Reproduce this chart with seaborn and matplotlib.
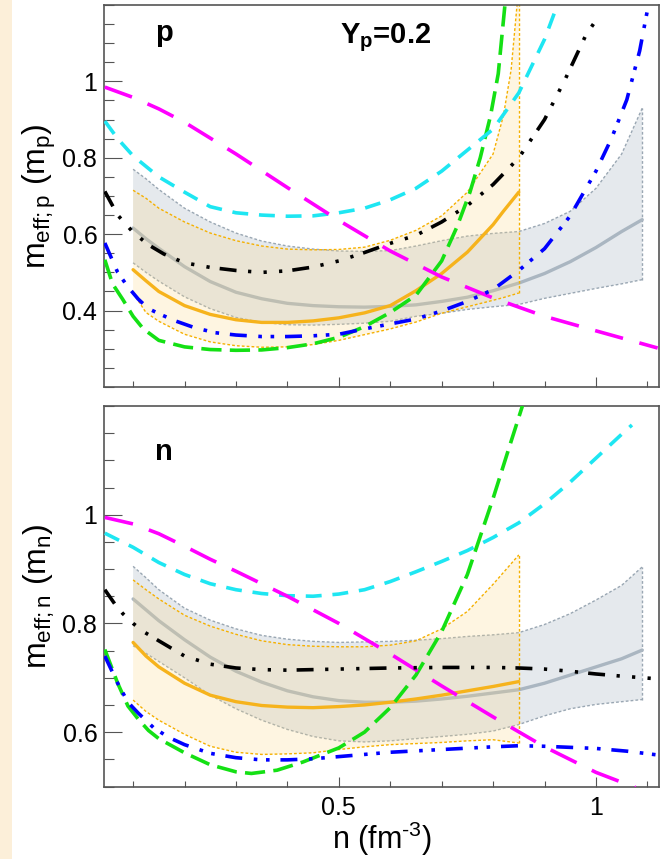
import matplotlib
matplotlib.use("Agg")
import matplotlib.pyplot as plt
from matplotlib.patches import Rectangle
from matplotlib.ticker import FixedLocator, MultipleLocator, FuncFormatter
import numpy as np
import pandas as pd
import seaborn as sns

sns.set_style("ticks")
plt.rcParams["font.family"] = ["Liberation Sans", "DejaVu Sans"]
plt.rcParams["mathtext.fontset"] = "custom"
plt.rcParams["mathtext.rm"] = "Liberation Sans"
plt.rcParams["mathtext.it"] = "Liberation Sans:italic"
plt.rcParams["mathtext.bf"] = "Liberation Sans:bold"
plt.rcParams["text.color"] = "black"
plt.rcParams["axes.labelcolor"] = "black"

# ---------------- proton panel (Y_p = 0.2) ----------------
p_magenta_n = [0.045, 0.1, 0.15, 0.2, 0.3, 0.4, 0.5, 0.6, 0.7, 0.8, 0.9, 1.0, 1.12]
p_magenta_m = [0.985, 0.958, 0.928, 0.893, 0.81, 0.722, 0.636, 0.556, 0.488, 0.433, 0.385, 0.347, 0.302]

p_cyan_n = [0.045, 0.07, 0.1, 0.15, 0.2, 0.25, 0.3, 0.35, 0.4, 0.45, 0.5, 0.55,
            0.6, 0.65, 0.7, 0.75, 0.8, 0.85, 0.9, 0.925]
p_cyan_m = [0.896, 0.85, 0.805, 0.75, 0.71, 0.672, 0.656, 0.65, 0.647, 0.648, 0.656, 0.668,
            0.69, 0.72, 0.765, 0.82, 0.875, 0.97, 1.11, 1.2]

p_green_n = [0.045, 0.06, 0.08, 0.1, 0.12, 0.15, 0.2, 0.25, 0.3, 0.35, 0.4, 0.45, 0.5,
             0.55, 0.6, 0.65, 0.7, 0.73, 0.755, 0.775, 0.795, 0.81, 0.823]
p_green_m = [0.533, 0.47, 0.429, 0.385, 0.352, 0.322, 0.305, 0.298, 0.296, 0.297, 0.303,
             0.313, 0.33, 0.358, 0.395, 0.44, 0.53, 0.62, 0.71, 0.80, 0.91, 1.02, 1.2]

p_blue_n = [0.045, 0.07, 0.09, 0.11, 0.13, 0.15, 0.18, 0.22, 0.26, 0.3, 0.35, 0.4, 0.45,
            0.5, 0.55, 0.6, 0.65, 0.7, 0.75, 0.8, 0.85, 0.9, 0.95, 1.0, 1.03, 1.06,
            1.085, 1.102]
p_blue_m = [0.577, 0.50, 0.462, 0.43, 0.405, 0.392, 0.374, 0.355, 0.342, 0.336, 0.332,
            0.332, 0.334, 0.338, 0.352, 0.365, 0.378, 0.399, 0.424, 0.455, 0.505, 0.562,
            0.648, 0.765, 0.85, 0.952, 1.08, 1.2]

p_black_n = [0.045, 0.07, 0.1, 0.13, 0.16, 0.2, 0.25, 0.3, 0.35, 0.4, 0.45, 0.5, 0.55,
             0.6, 0.65, 0.7, 0.75, 0.8, 0.85, 0.9, 0.94, 0.98, 1.005]
p_black_m = [0.712, 0.65, 0.605, 0.572, 0.548, 0.525, 0.513, 0.505, 0.50, 0.504, 0.514,
             0.53, 0.552, 0.576, 0.597, 0.632, 0.675, 0.73, 0.80, 0.90, 1.005, 1.12, 1.17]

p_orange_n = [0.1, 0.125, 0.15, 0.2, 0.25, 0.3, 0.35, 0.4, 0.45, 0.5, 0.55, 0.6, 0.65,
              0.7, 0.75, 0.8, 0.82, 0.835, 0.85]
p_orange_mid = [0.507, 0.478, 0.45, 0.413, 0.39, 0.376, 0.369, 0.369, 0.373, 0.381, 0.394,
                0.413, 0.452, 0.497, 0.553, 0.625, 0.66, 0.685, 0.710]
p_orange_hi = [0.715, 0.694, 0.668, 0.632, 0.603, 0.583, 0.569, 0.561, 0.559, 0.560, 0.566,
               0.584, 0.61, 0.648, 0.71, 0.81, 0.91, 1.03, 1.25]
p_orange_lo = [0.446, 0.395, 0.372, 0.338, 0.318, 0.308, 0.304, 0.305, 0.311, 0.322, 0.337,
               0.352, 0.37, 0.393, 0.41, 0.427, 0.434, 0.44, 0.446]

p_gray_n = [0.1, 0.125, 0.15, 0.2, 0.25, 0.3, 0.35, 0.4, 0.45, 0.5, 0.55, 0.6, 0.65, 0.7,
            0.75, 0.8, 0.85, 0.9, 0.95, 1.0, 1.05, 1.09]
p_gray_mid = [0.616, 0.588, 0.563, 0.515, 0.476, 0.448, 0.431, 0.419, 0.413, 0.410, 0.409,
              0.411, 0.415, 0.424, 0.435, 0.452, 0.472, 0.497, 0.528, 0.565, 0.607, 0.638]
p_gray_hi = [0.77, 0.745, 0.717, 0.668, 0.632, 0.603, 0.582, 0.569, 0.561, 0.556, 0.555,
             0.557, 0.569, 0.583, 0.595, 0.602, 0.607, 0.628, 0.66, 0.72, 0.81, 0.93]
p_gray_lo = [0.525, 0.50, 0.477, 0.436, 0.405, 0.382, 0.369, 0.363, 0.362, 0.364, 0.367,
             0.372, 0.385, 0.393, 0.403, 0.410, 0.416, 0.432, 0.445, 0.458, 0.470, 0.481]

# ---------------- neutron panel ----------------
n_magenta_n = [0.045, 0.1, 0.15, 0.2, 0.25, 0.3, 0.35, 0.4, 0.5, 0.6, 0.7, 0.8, 0.9, 1.0, 1.077]
n_magenta_m = [0.995, 0.983, 0.965, 0.942, 0.918, 0.896, 0.873, 0.85, 0.8, 0.744, 0.685,
               0.628, 0.573, 0.526, 0.498]

n_cyan_n = [0.045, 0.1, 0.15, 0.2, 0.25, 0.3, 0.35, 0.4, 0.45, 0.5, 0.55, 0.6, 0.65, 0.7,
            0.75, 0.8, 0.85, 0.9, 0.95, 1.0, 1.05, 1.07]
n_cyan_m = [0.966, 0.94, 0.912, 0.89, 0.873, 0.862, 0.855, 0.851, 0.85, 0.854, 0.862, 0.877,
            0.895, 0.914, 0.934, 0.958, 0.985, 1.02, 1.06, 1.104, 1.148, 1.165]

n_green_n = [0.045, 0.07, 0.09, 0.11, 0.13, 0.15, 0.2, 0.25, 0.3, 0.33, 0.38, 0.43, 0.5,
             0.55, 0.6, 0.65, 0.7, 0.75, 0.8, 0.83, 0.857]
n_green_m = [0.752, 0.69, 0.648, 0.624, 0.603, 0.588, 0.562, 0.540, 0.527, 0.524, 0.530,
             0.545, 0.571, 0.60, 0.645, 0.705, 0.785, 0.89, 1.03, 1.12, 1.2]

n_blue_n = [0.045, 0.07, 0.09, 0.11, 0.14, 0.17, 0.2, 0.25, 0.3, 0.35, 0.4, 0.45, 0.5, 0.6,
            0.7, 0.8, 0.85, 0.9, 1.0, 1.06, 1.12]
n_blue_m = [0.740, 0.69, 0.655, 0.635, 0.608, 0.59, 0.577, 0.561, 0.553, 0.549, 0.549, 0.551,
            0.555, 0.563, 0.568, 0.573, 0.575, 0.574, 0.570, 0.565, 0.558]

n_black_n = [0.045, 0.065, 0.08, 0.1, 0.12, 0.15, 0.2, 0.25, 0.3, 0.35, 0.4, 0.5, 0.6, 0.7,
             0.8, 0.85, 0.9, 0.95, 1.0, 1.05, 1.12]
n_black_m = [0.862, 0.835, 0.818, 0.8, 0.785, 0.768, 0.74, 0.725, 0.718, 0.715, 0.714, 0.716,
             0.718, 0.719, 0.719, 0.718, 0.716, 0.712, 0.707, 0.703, 0.698]

n_orange_n = [0.1, 0.125, 0.15, 0.2, 0.25, 0.3, 0.35, 0.4, 0.45, 0.5, 0.55, 0.6, 0.65, 0.7,
              0.75, 0.8, 0.85]
n_orange_mid = [0.765, 0.74, 0.72, 0.69, 0.668, 0.656, 0.649, 0.646, 0.645, 0.647, 0.65, 0.655,
                0.661, 0.668, 0.676, 0.684, 0.693]
n_orange_hi = [0.88, 0.862, 0.845, 0.815, 0.795, 0.78, 0.768, 0.761, 0.758, 0.757, 0.757, 0.76,
               0.768, 0.79, 0.822, 0.872, 0.926]
n_orange_lo = [0.659, 0.638, 0.622, 0.596, 0.574, 0.563, 0.559, 0.56, 0.562, 0.568, 0.573,
               0.577, 0.579, 0.581, 0.584, 0.586, 0.580]

n_gray_n = [0.1, 0.125, 0.15, 0.2, 0.25, 0.3, 0.35, 0.4, 0.45, 0.5, 0.55, 0.6, 0.65, 0.7,
            0.75, 0.8, 0.85, 0.9, 0.95, 1.0, 1.05, 1.09]
n_gray_mid = [0.845, 0.825, 0.805, 0.77, 0.738, 0.712, 0.692, 0.676, 0.665, 0.658, 0.655,
              0.655, 0.657, 0.661, 0.666, 0.672, 0.678, 0.69, 0.705, 0.72, 0.735, 0.751]
n_gray_hi = [0.905, 0.884, 0.862, 0.828, 0.806, 0.79, 0.778, 0.771, 0.767, 0.765, 0.766,
             0.767, 0.769, 0.772, 0.776, 0.779, 0.783, 0.798, 0.818, 0.843, 0.87, 0.904]
n_gray_lo = [0.759, 0.745, 0.73, 0.70, 0.668, 0.643, 0.622, 0.605, 0.592, 0.584, 0.582,
             0.584, 0.588, 0.592, 0.596, 0.602, 0.614, 0.63, 0.643, 0.651, 0.656, 0.660]

x_major = [0.5, 1.0]
p_y_major = [0.4, 0.6, 0.8, 1.0]
n_y_major = [0.6, 0.8, 1.0]

# ---------------- styles ----------------
C_MAGENTA = "#ff00ff"
C_CYAN = "#1ee6f2"
C_GREEN = "#14e014"
C_BLUE = "#0000ff"
C_BLACK = "#000000"
C_ORANGE = "#f6b31c"
C_GRAY = "#aab6c1"
C_ORANGE_FILL = "#fcd98a"
C_GRAY_FILL = "#a9b8c4"
C_ORANGE_EDGE = "#f5b000"
C_GRAY_EDGE = "#9aa7b3"
C_FRAME = "#555555"

LS_MAGENTA = (0, (8.0, 4.7))
LS_CYAN = (0, (4.4, 3.0))
LS_GREEN = (0, (5.6, 2.3))
LS_BLUE = (0, (4.7, 3.2, 1.0, 2.4, 1.0, 3.0))
LS_BLACK = (0, (4.7, 3.2, 0.9, 3.4, 0.9, 3.4, 0.9, 2.8))


def curve(ax, n, m, color, lw, ls, z):
    df = pd.DataFrame({"n": n, "m": m})
    sns.lineplot(data=df, x="n", y="m", ax=ax, color=color, linewidth=lw,
                 linestyle=ls, estimator=None, sort=False, legend=False, zorder=z)


def band(ax, n, lo, mid, hi, fill, alpha, edge, line, z):
    df = pd.DataFrame({"n": n, "lo": lo, "mid": mid, "hi": hi})
    ax.fill_between(df["n"], df["lo"], df["hi"], facecolor=fill, alpha=alpha,
                    edgecolor="none", zorder=z)
    for col in ("lo", "hi"):
        sns.lineplot(data=df, x="n", y=col, ax=ax, color=edge, linewidth=1.0,
                     linestyle=(0, (2, 1.5)), estimator=None, sort=False,
                     legend=False, zorder=z + 0.1)
    ax.plot([n[-1], n[-1]], [lo[-1], hi[-1]], color=edge, lw=1.0,
            linestyle=(0, (2, 1.5)), zorder=z + 0.1)
    sns.lineplot(data=df, x="n", y="mid", ax=ax, color=line, linewidth=2.4,
                 estimator=None, sort=False, legend=False, zorder=z + 0.2)


fig = plt.figure(figsize=(6.69, 8.59), dpi=100)
fig.patch.set_facecolor("white")
fig.add_artist(Rectangle((0, 0), 12 / 669, 1, transform=fig.transFigure,
                         facecolor="#fcefd9", edgecolor="none", zorder=0))

ax_p = fig.add_axes([0.1559, 0.5495, 0.8287, 0.4447])
ax_n = fig.add_axes([0.1559, 0.0844, 0.8287, 0.4430])

# proton panel
band(ax_p, p_gray_n, p_gray_lo, p_gray_mid, p_gray_hi, C_GRAY_FILL, 0.3, C_GRAY_EDGE, C_GRAY, 1)
band(ax_p, p_orange_n, p_orange_lo, p_orange_mid, p_orange_hi, C_ORANGE_FILL, 0.25, C_ORANGE_EDGE, C_ORANGE, 2)
curve(ax_p, p_green_n, p_green_m, C_GREEN, 2.6, LS_GREEN, 4)
curve(ax_p, p_cyan_n, p_cyan_m, C_CYAN, 2.6, LS_CYAN, 4)
curve(ax_p, p_magenta_n, p_magenta_m, C_MAGENTA, 2.6, LS_MAGENTA, 4)
curve(ax_p, p_blue_n, p_blue_m, C_BLUE, 2.6, LS_BLUE, 5)
curve(ax_p, p_black_n, p_black_m, C_BLACK, 2.6, LS_BLACK, 5)

# neutron panel
band(ax_n, n_gray_n, n_gray_lo, n_gray_mid, n_gray_hi, C_GRAY_FILL, 0.3, C_GRAY_EDGE, C_GRAY, 1)
band(ax_n, n_orange_n, n_orange_lo, n_orange_mid, n_orange_hi, C_ORANGE_FILL, 0.25, C_ORANGE_EDGE, C_ORANGE, 2)
curve(ax_n, n_green_n, n_green_m, C_GREEN, 2.6, LS_GREEN, 4)
curve(ax_n, n_cyan_n, n_cyan_m, C_CYAN, 2.6, LS_CYAN, 4)
curve(ax_n, n_magenta_n, n_magenta_m, C_MAGENTA, 2.6, LS_MAGENTA, 4)
curve(ax_n, n_blue_n, n_blue_m, C_BLUE, 2.6, LS_BLUE, 5)
curve(ax_n, n_black_n, n_black_m, C_BLACK, 2.6, LS_BLACK, 5)

fmt = FuncFormatter(lambda v, _: f"{v:g}")
for ax, ylim, ymaj in ((ax_p, (0.2, 1.2), p_y_major), (ax_n, (0.5, 1.2), n_y_major)):
    ax.set_xlim(0.044, 1.122)
    ax.set_ylim(*ylim)
    ax.xaxis.set_major_locator(FixedLocator(x_major))
    ax.xaxis.set_minor_locator(MultipleLocator(0.1))
    ax.yaxis.set_major_locator(FixedLocator(ymaj))
    ax.yaxis.set_minor_locator(MultipleLocator(0.05))
    ax.xaxis.set_major_formatter(fmt)
    ax.yaxis.set_major_formatter(fmt)
    ax.tick_params(axis="both", which="both", direction="in", color=C_FRAME,
                   width=0.8, labelsize=18, labelcolor="black", top=False, right=False)
    ax.tick_params(axis="y", which="major", length=13, pad=5)
    ax.tick_params(axis="y", which="minor", length=7)
    ax.tick_params(axis="x", which="major", length=7.5, pad=7)
    ax.tick_params(axis="x", which="minor", length=4)
    for sp in ax.spines.values():
        sp.set_color(C_FRAME)
        sp.set_linewidth(1.2)
    ax.set_facecolor("white")
    ax.set_xlabel("")

ax_p.tick_params(axis="x", labelbottom=False)

ax_p.set_ylabel(r"m$_{\mathrm{eff;p}}$ (m$_{\mathrm{p}}$)", fontsize=23)
ax_n.set_ylabel(r"m$_{\mathrm{eff;n}}$ (m$_{\mathrm{n}}$)", fontsize=23)
for ax in (ax_p, ax_n):
    ax.yaxis.set_label_coords(-0.117, 0.5)
    ax.yaxis.label.set_verticalalignment("center")

ax_n.set_xlabel(r"n (fm$^{\text{-3}}$)", fontsize=22)
ax_n.xaxis.set_label_coords(0.5, -0.137)
ax_n.xaxis.label.set_verticalalignment("center")

ax_p.text(0.0915, 0.906, "p", transform=ax_p.transAxes, fontsize=21,
          fontweight="bold", va="baseline", ha="left")
ax_p.text(0.426, 0.90, r"Y$_{\mathbf{p}}$=0.2", transform=ax_p.transAxes, fontsize=21,
          fontweight="bold", va="baseline", ha="left")
ax_n.text(0.0915, 0.858, "n", transform=ax_n.transAxes, fontsize=21,
          fontweight="bold", va="baseline", ha="left")

fig.savefig("out.png", dpi=100)
